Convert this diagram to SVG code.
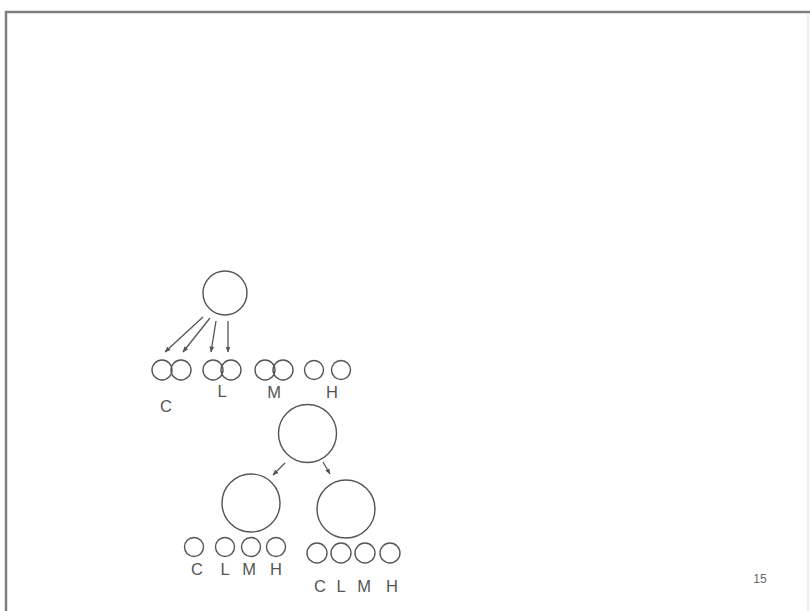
<svg xmlns="http://www.w3.org/2000/svg" width="810" height="611" viewBox="0 0 810 611">
<style>
.c{fill:none;stroke:#555;stroke-width:1.4}
.a{stroke:#555;stroke-width:1.3;fill:none}
.t{font-family:"Liberation Sans",Arial,sans-serif;font-size:16.5px;fill:#555;text-anchor:middle}
.f{stroke:#808080;stroke-width:2.5;fill:none}
</style>
<defs>
<marker id="ah" viewBox="0 0 10 10" refX="9" refY="5" markerWidth="6" markerHeight="6" orient="auto" markerUnits="userSpaceOnUse">
<path d="M0,1 L10,5 L0,9 z" fill="#555"/>
</marker>
</defs>
<rect width="810" height="611" fill="#fff"/>
<g id="frame">
<path class="f" d="M6,611 V12 H810"/>
<path d="M808,14 V611" stroke="#ddd" stroke-width="1"/>
</g>
<g id="connectors">
<line class="a" x1="203" y1="317" x2="165" y2="352" marker-end="url(#ah)"/>
<line class="a" x1="210" y1="318" x2="183" y2="352" marker-end="url(#ah)"/>
<line class="a" x1="216" y1="321" x2="211" y2="352" marker-end="url(#ah)"/>
<line class="a" x1="228" y1="321" x2="228" y2="352" marker-end="url(#ah)"/>
<line class="a" x1="285" y1="463" x2="273" y2="475" marker-end="url(#ah)"/>
<line class="a" x1="323" y1="462" x2="330" y2="474" marker-end="url(#ah)"/>
</g>
<g id="root1"><circle class="c" cx="225" cy="293" r="22"/></g>
<g id="pairC"><circle class="c" cx="162" cy="370" r="10"/><circle class="c" cx="181" cy="370" r="10"/><text class="t" x="166" y="412">C</text></g>
<g id="pairL"><circle class="c" cx="213" cy="370" r="10"/><circle class="c" cx="231" cy="370" r="10"/><text class="t" x="222" y="397">L</text></g>
<g id="pairM"><circle class="c" cx="265" cy="370" r="10"/><circle class="c" cx="283" cy="370" r="10"/><text class="t" x="274" y="398">M</text></g>
<g id="pairH"><circle class="c" cx="314" cy="370" r="9.5"/><circle class="c" cx="341" cy="370" r="9.5"/><text class="t" x="332" y="398">H</text></g>
<g id="root2"><circle class="c" cx="307.5" cy="433.5" r="29"/></g>
<g id="left"><circle class="c" cx="251" cy="503" r="29"/></g>
<g id="right"><circle class="c" cx="346" cy="509" r="29"/></g>
<g id="leftLeaves">
<circle class="c" cx="194" cy="547" r="9.5"/><circle class="c" cx="225" cy="547" r="9.5"/><circle class="c" cx="251" cy="547" r="9.5"/><circle class="c" cx="276" cy="547" r="9.5"/>
<text class="t" x="197" y="575">C</text><text class="t" x="225" y="575">L</text><text class="t" x="249" y="575">M</text><text class="t" x="276" y="575">H</text>
</g>
<g id="rightLeaves">
<circle class="c" cx="317" cy="553" r="10"/><circle class="c" cx="341" cy="553" r="10"/><circle class="c" cx="365" cy="553" r="10"/><circle class="c" cx="390" cy="553" r="10"/>
<text class="t" x="320" y="592">C</text><text class="t" x="341" y="592">L</text><text class="t" x="364" y="592">M</text><text class="t" x="392" y="592">H</text>
</g>
<text x="760" y="583" style="font-family:'Liberation Sans',Arial,sans-serif;font-size:12px;fill:#666;text-anchor:middle">15</text>
</svg>
